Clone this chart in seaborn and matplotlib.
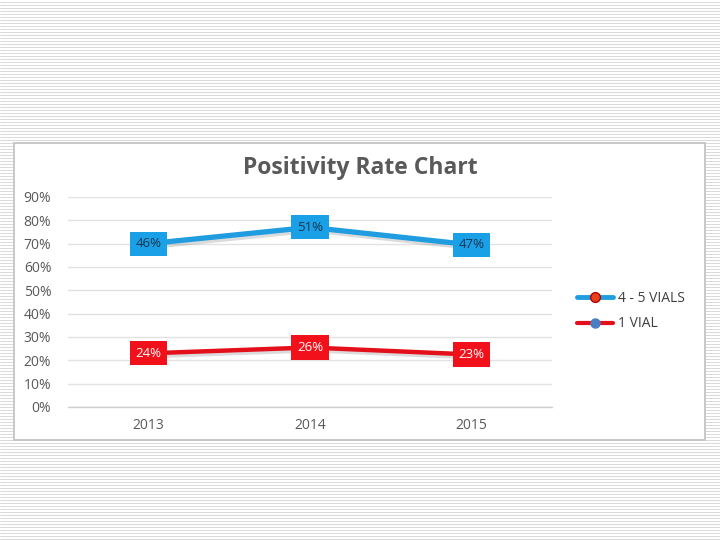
import matplotlib
matplotlib.use("Agg")
import matplotlib.pyplot as plt
import matplotlib.patheffects as pe
from matplotlib.lines import Line2D
from matplotlib.patches import Rectangle
from matplotlib.ticker import PercentFormatter
import seaborn as sns
import pandas as pd
import numpy as np

# ---- data ----
years = ["2013", "2014", "2015"]
vials45 = [0.70, 0.77, 0.695]
vial1 = [0.23, 0.255, 0.225]
labels45 = ["46%", "51%", "47%"]
labels1 = ["24%", "26%", "23%"]
series_names = ["4 - 5 VIALS", "1 VIAL"]
yticks = [0.0, 0.1, 0.2, 0.3, 0.4, 0.5, 0.6, 0.7, 0.8, 0.9]

BLUE = "#1f9de0"
BLUE_BOX = "#1aa0e6"
RED = "#e3101c"
RED_BOX = "#f2101a"
GRAY_TXT = "#595959"

sns.set_theme(style="white")
plt.rcParams['font.family'] = ['Open Sans', 'DejaVu Sans']

fig = plt.figure(figsize=(7.2, 5.4), dpi=100)

# slide background with horizontal stripes
bg = fig.add_axes([0, 0, 1, 1])
bg.set_xlim(0, 720)
bg.set_ylim(540, 0)
bg.axis('off')
for yy in np.arange(1.5, 540, 3):
    bg.axhline(yy, color='#dadada', lw=0.72, zorder=1)
bg.add_patch(Rectangle((14, 143), 691, 297, facecolor='white',
                       edgecolor='#c4c4c4', lw=1.3, zorder=3))

# main chart axes
ax = fig.add_axes([68 / 720, (540 - 407) / 540, 484 / 720, 210 / 540])
ax.patch.set_visible(False)

df = pd.DataFrame({
    "Year": years * 2,
    "Rate": vials45 + vial1,
    "Series": [series_names[0]] * 3 + [series_names[1]] * 3,
})

sns.lineplot(data=df[df.Series == series_names[0]], x="Year", y="Rate",
             color=BLUE, lw=3.8, ax=ax, legend=False, sort=False)
sns.lineplot(data=df[df.Series == series_names[1]], x="Year", y="Rate",
             color=RED, lw=3.2, ax=ax, legend=False, sort=False)
for ln in ax.lines:
    ln.set_path_effects([pe.SimpleLineShadow(offset=(1.5, -2.0),
                                             shadow_color='#808080', alpha=0.28),
                         pe.Normal()])
    ln.set_solid_capstyle('butt')

for i, (v, lab) in enumerate(zip(vials45, labels45)):
    ax.text(i, v, lab, ha='center', va='center', fontsize=9.5, color='#1b3550',
            bbox=dict(boxstyle='square,pad=0.42', fc=BLUE_BOX, ec='none'), zorder=5)
for i, (v, lab) in enumerate(zip(vial1, labels1)):
    ax.text(i, v, lab, ha='center', va='center', fontsize=9.5, color='white',
            bbox=dict(boxstyle='square,pad=0.42', fc=RED_BOX, ec='none'), zorder=5)

ax.set_xlim(-0.5, 2.5)
ax.set_ylim(0, 0.9)
ax.set_yticks(yticks)
ax.yaxis.set_major_formatter(PercentFormatter(1.0, decimals=0))
ax.yaxis.grid(True, color='#e2e2e2', lw=1.0)
ax.set_axisbelow(True)
for s in ['top', 'right', 'left']:
    ax.spines[s].set_visible(False)
ax.spines['bottom'].set_color('#d0d0d0')
ax.spines['bottom'].set_linewidth(1.0)
ax.tick_params(axis='both', length=0, labelsize=10, colors=GRAY_TXT)
ax.tick_params(axis='y', pad=12)
ax.tick_params(axis='x', pad=8)
ax.set_xlabel('')
ax.set_ylabel('')

fig.text(360 / 720, 1 - 168 / 540, "Positivity Rate Chart", ha='center',
         va='center', fontsize=16.5, fontweight='bold', color=GRAY_TXT)

handles = [
    Line2D([], [], color=BLUE, lw=3.5, marker='o', markerfacecolor='#e8401c',
           markeredgecolor='#b00000', markersize=7),
    Line2D([], [], color=RED, lw=3.0, marker='o', markerfacecolor='#4a7ec2',
           markeredgecolor='#4a7ec2', markersize=6.5),
]
fig.legend(handles, series_names, loc='upper left',
           bbox_to_anchor=(577 / 720, 1 - 291 / 540), frameon=False,
           fontsize=10, handlelength=2.6, handletextpad=0.35, labelspacing=0.75,
           labelcolor='#404040', borderaxespad=0, borderpad=0)

fig.savefig("out.png", dpi=100)
